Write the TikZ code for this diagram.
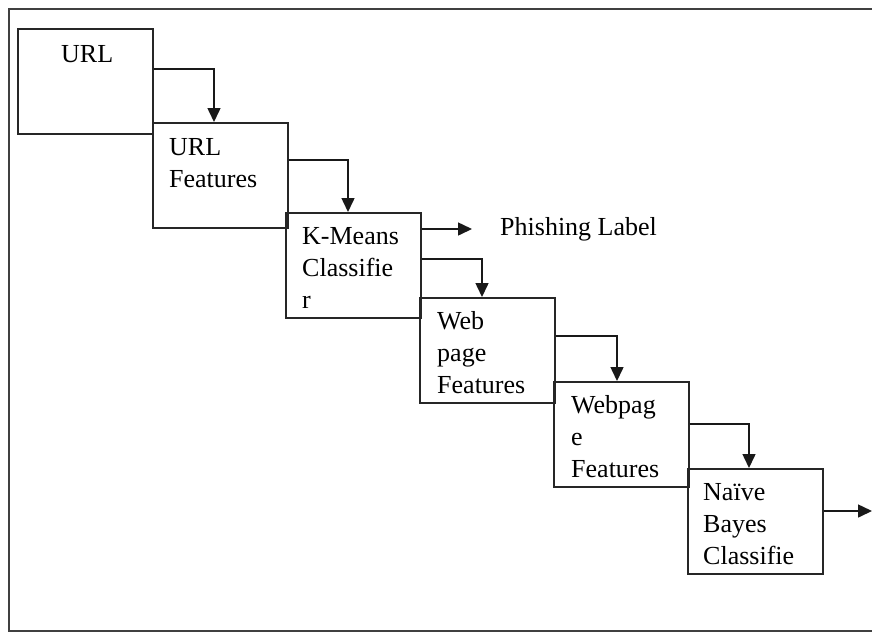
\documentclass[tikz,border=0pt]{standalone}
\usepackage{fontspec}
\setmainfont{Liberation Serif}
\usetikzlibrary{arrows.meta}
\begin{document}
\begin{tikzpicture}[x=1pt,y=-1pt,
  stagebox/.style={draw=black!85, line width=1.8pt, minimum width=135pt,
    minimum height=105pt, inner sep=0pt, anchor=north west},
  boxtext/.style={anchor=base west, inner sep=0pt, align=left,
    font=\fontsize{26}{32}\selectfont},
  flow/.style={draw=black!90, line width=1.5pt,
    -{Triangle[length=14pt,width=13pt]}}]
  \useasboundingbox (0,0) rectangle (872,633);
  % open frame around the pipeline
  \draw[black!75, line width=1.6pt] (872,9) -- (9,9) -- (9,631) -- (872,631);

  % processing stages, stepping down to the right
  \node[stagebox] (b1) at (17,28) {};
  \node[stagebox] (b2) at (152,122) {};
  \node[stagebox] (b3) at (285,212) {};
  \node[stagebox] (b4) at (419,297) {};
  \node[stagebox] (b5) at (553,381) {};
  \node[stagebox] (b6) at (687,468) {};

  % stage captions (base anchor sits on the last line)
  \node[boxtext] (t1) at ([xshift=44pt,yshift=-34pt]b1.north west) {URL};
  \node[boxtext] (t2) at ([xshift=17pt,yshift=-65pt]b2.north west) {URL\\Features};
  \node[boxtext] (t3) at ([xshift=17pt,yshift=-96pt]b3.north west) {K-Means\\Classifie\\r};
  \node[boxtext] (t4) at ([xshift=18pt,yshift=-96pt]b4.north west) {Web\\page\\Features};
  \node[boxtext] (t5) at ([xshift=18pt,yshift=-96pt]b5.north west) {Webpag\\e\\Features};
  \node[boxtext] (t6) at ([xshift=16pt,yshift=-96pt]b6.north west) {Naïve\\Bayes\\Classifie};

  \node[boxtext] (ph) at (500,235) {Phishing Label};
  \coordinate (out) at (872,511);

  % connectors between stages
  \draw[flow] ([yshift=-41pt]b1.north east) -| ([xshift=62pt]b2.north west);
  \draw[flow] ([yshift=-38pt]b2.north east) -| ([xshift=63pt]b3.north west);
  \draw[flow] ([yshift=-17pt]b3.north east) -- ([xshift=-28pt,yshift=6pt]ph.base west);
  \draw[flow] ([yshift=-47pt]b3.north east) -| ([xshift=63pt]b4.north west);
  \draw[flow] ([yshift=-39pt]b4.north east) -| ([xshift=64pt]b5.north west);
  \draw[flow] ([yshift=-43pt]b5.north east) -| ([xshift=62pt]b6.north west);
  \draw[flow] ([yshift=-43pt]b6.north east) -- (out);
\end{tikzpicture}
\end{document}
